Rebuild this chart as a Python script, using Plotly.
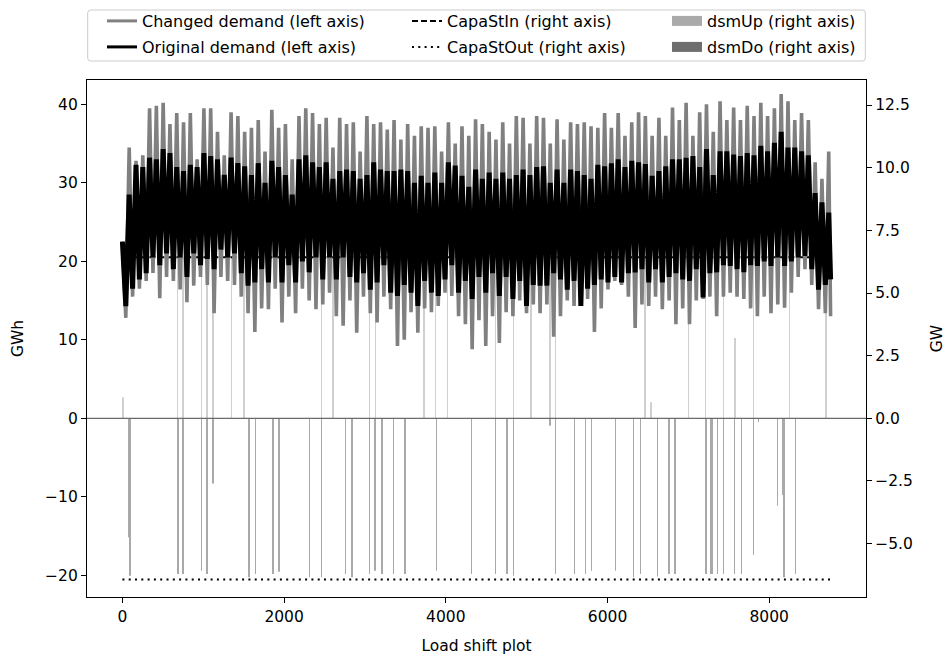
import plotly.graph_objects as go

# ---------------- data ----------------
# sample hours (every 84 h over the year); each sample holds a high/low reading
step_hours = list(range(0, 8760, 84))

orig_hi = [22.5, 28.5, 32.3, 32.0, 33.2, 33.0, 34.3, 33.8, 32.0, 31.5,
           32.3, 32.0, 33.8, 33.4, 33.0, 31.0, 33.2, 32.5, 32.1, 31.0,
           32.5, 30.0, 32.8, 32.0, 31.0, 28.5, 33.0, 33.5, 32.6, 32.0,
           32.6, 30.5, 31.5, 31.7, 31.5, 30.5, 31.0, 32.6, 31.7, 31.5,
           31.5, 31.7, 31.5, 30.0, 30.9, 30.0, 31.3, 30.0, 32.6, 32.2,
           30.9, 29.5, 31.7, 30.5, 31.3, 30.5, 31.3, 30.5, 31.0, 31.7,
           31.0, 32.0, 32.1, 30.0, 31.7, 30.0, 31.7, 31.5, 31.0, 30.5,
           32.3, 32.1, 32.5, 33.0, 32.0, 32.8, 32.6, 32.4, 30.9, 31.5,
           32.1, 33.0, 33.0, 33.2, 33.4, 32.0, 34.3, 31.0, 34.0, 34.0,
           33.6, 33.4, 33.8, 33.5, 34.7, 34.0, 35.1, 36.5, 34.5, 34.5,
           34.0, 33.5, 28.7, 27.5, 26.2]

orig_lo = [14.3, 16.5, 17.7, 18.5, 20.5, 19.5, 21.0, 19.0, 20.5, 18.0,
           21.0, 19.5, 20.3, 19.0, 21.5, 20.5, 21.0, 18.5, 16.9, 17.3,
           19.0, 17.3, 20.5, 17.3, 19.5, 17.3, 20.0, 18.6, 20.5, 17.7,
           20.5, 17.7, 20.5, 18.0, 17.3, 18.5, 16.4, 17.3, 19.5, 16.0,
           15.6, 17.0, 16.0, 14.3, 17.5, 16.0, 15.6, 17.7, 19.5, 16.0,
           17.5, 15.2, 18.0, 16.0, 18.5, 15.6, 18.0, 15.2, 17.5, 14.3,
           17.0, 16.9, 16.9, 18.5, 17.7, 16.4, 17.5, 14.3, 16.5, 17.0,
           17.7, 17.3, 18.0, 17.3, 18.5, 18.6, 19.0, 17.3, 19.0, 17.3,
           18.0, 18.5, 17.7, 17.5, 19.0, 15.4, 18.5, 18.6, 19.5, 19.4,
           19.0, 18.6, 19.5, 19.4, 20.0, 19.4, 20.5, 19.4, 20.0, 20.5,
           20.7, 19.0, 16.4, 17.0, 17.7]

chg_hi = [22.5, 34.5, 32.8, 33.5, 39.5, 39.8, 40.2, 37.5, 38.9, 37.7,
          38.9, 33.0, 39.5, 39.5, 36.5, 33.5, 39.0, 38.5, 36.5, 37.0,
          38.0, 34.0, 39.3, 37.0, 37.5, 33.0, 38.5, 39.5, 38.9, 37.5,
          38.3, 34.5, 38.3, 37.5, 37.7, 34.0, 38.5, 37.5, 37.7, 36.8,
          38.0, 35.5, 37.5, 36.0, 37.2, 37.0, 37.2, 34.0, 37.7, 35.0,
          37.2, 36.0, 38.1, 37.5, 36.5, 35.5, 37.7, 35.0, 38.5, 38.3,
          35.0, 38.5, 38.3, 35.0, 38.1, 35.5, 37.7, 37.5, 37.7, 37.2,
          37.0, 38.9, 37.0, 38.9, 36.0, 37.7, 39.0, 38.5, 36.0, 38.3,
          36.0, 39.6, 38.0, 40.2, 36.0, 39.0, 40.0, 36.5, 40.4, 38.0,
          39.6, 38.0, 39.8, 38.5, 40.2, 38.5, 39.5, 41.3, 40.4, 38.0,
          38.9, 38.0, 32.6, 30.5, 34.0]

chg_lo = [12.8, 15.5, 16.5, 17.5, 18.5, 15.3, 18.0, 17.5, 16.4, 14.8,
          16.9, 18.0, 17.0, 13.4, 18.0, 17.5, 17.0, 15.5, 13.4, 11.0,
          14.0, 13.9, 16.5, 12.2, 15.5, 13.4, 16.5, 15.0, 13.9, 14.5,
          16.0, 13.0, 11.8, 15.0, 10.9, 15.5, 13.4, 12.2, 15.5, 13.9,
          9.2, 10.0, 13.5, 10.9, 14.0, 13.5, 14.3, 16.0, 15.6, 13.0,
          12.0, 8.8, 12.5, 9.2, 13.0, 9.6, 13.5, 13.0, 15.0, 13.4,
          14.5, 13.4, 14.5, 10.4, 13.0, 15.0, 14.3, 15.0, 15.2, 11.0,
          14.0, 16.4, 17.5, 17.0, 15.5, 11.5, 14.5, 14.3, 15.5, 13.9,
          15.0, 12.0, 14.0, 12.0, 15.0, 15.2, 15.5, 13.0, 15.5, 16.0,
          15.5, 15.2, 14.0, 13.0, 15.5, 13.4, 14.5, 14.1, 16.0, 18.0,
          19.0, 17.0, 13.9, 13.4, 13.0]

dsm_up_hours = [8, 681, 751, 978, 1048, 1122, 1349, 1506, 2463, 2607,
                3053, 3131, 3729, 3873, 4018, 4616, 4834, 5053, 5288, 5358,
                6464, 6538, 7000, 7210, 7433, 7577, 7808, 8250, 8704]
dsm_up_gw = [0.84, 6.43, 6.43, 6.43, 6.43, 6.43, 6.43, 6.43, 6.43, 6.43,
             6.43, 6.43, 6.43, 6.43, 6.43, 6.43, 6.43, 6.43, 6.43, 6.43,
             6.43, 0.64, 6.43, 6.43, 6.43, 3.2, 6.43, 6.43, 6.43]

dsm_do_hours = [80, 95, 689, 751, 978, 1048, 1122, 1568, 1646, 1865,
                1939, 2314, 2463, 2756, 2838, 3053, 3127, 3213, 3354, 3498,
                3886, 4315, 4612, 4756, 4838, 5288, 5358, 5589, 5729, 5800,
                6101, 6323, 6406, 6620, 6761, 6835, 7219, 7276, 7293, 7359,
                7433, 7573, 7656, 7804, 7870, 8105, 8172, 8180, 8324]
dsm_do_gw = [-4.75, -6.28, -6.21, -6.21, -6.08, -6.21, -2.60, -6.34, -6.21, -6.21,
             -6.12, -6.34, -6.34, -6.21, -6.34, -6.21, -6.08, -6.21, -6.21, -6.21,
             -6.08, -6.21, -6.21, -6.21, -6.28, -0.30, -6.21, -6.21, -6.21, -6.08,
             -6.08, -6.34, -6.21, -6.31, -6.21, -6.21, -6.21, -6.21, -6.21, -6.21,
             -6.21, -6.21, -6.21, -5.45, -0.15, -3.49, -3.06, -6.34, -6.21]

capa_hours = [0, 8759]
capa_st_in = [6.43, 6.43]
capa_st_out = [-6.43, -6.43]

x_ticks = [0, 2000, 4000, 6000, 8000]
left_ticks = [-20, -10, 0, 10, 20, 30, 40]
right_ticks = [-5.0, -2.5, 0.0, 2.5, 5.0, 7.5, 10.0, 12.5]

# ---------------- figure ----------------
FONT = "DejaVu Sans"
W, H = 946, 655
ML, MR, MT, MB = 87, 80, 80, 58
PW, PH = W - ML - MR, H - MT - MB


def zigzag(hi, lo):
    xs, ys = [], []
    for h, a, b in zip(step_hours, hi, lo):
        xs += [h, min(h + 42, 8759)]
        ys += [a, b]
    return xs, ys


fig = go.Figure()

# right-axis (base subplot, drawn underneath)
fig.add_trace(go.Bar(x=dsm_do_hours, y=dsm_do_gw, yaxis="y2", width=6,
                     marker=dict(color="#a9a9a9", line=dict(width=0)),
                     showlegend=False, hoverinfo="skip"))
fig.add_trace(go.Bar(x=dsm_up_hours, y=dsm_up_gw, yaxis="y2", width=6,
                     marker=dict(color="#d0d0d0", line=dict(width=0)),
                     showlegend=False, hoverinfo="skip"))
fig.add_trace(go.Scatter(x=capa_hours, y=capa_st_in, yaxis="y2", mode="lines",
                         line=dict(color="black", width=2, dash="6px,3px"),
                         showlegend=False, hoverinfo="skip"))
fig.add_trace(go.Scatter(x=capa_hours, y=capa_st_out, yaxis="y2", mode="lines",
                         line=dict(color="black", width=2, dash="2px,4.3px"),
                         showlegend=False, hoverinfo="skip"))

# left-axis demand lines (overlaying subplot, drawn on top)
cx, cy = zigzag(chg_hi, chg_lo)
ox, oy = zigzag(orig_hi, orig_lo)
fig.add_trace(go.Scatter(x=cx, y=cy, yaxis="y", mode="lines",
                         line=dict(color="#808080", width=3.6, simplify=False),
                         showlegend=False, hoverinfo="skip"))
fig.add_trace(go.Scatter(x=ox, y=oy, yaxis="y", mode="lines",
                         line=dict(color="black", width=5, simplify=False),
                         showlegend=False, hoverinfo="skip"))

# legend entries (one legend per slot, laid out like the reference)
entries = [
    ("Changed demand (left axis)", dict(color="#808080", width=3), 142, 21),
    ("Original demand (left axis)", dict(color="black", width=3), 142, 47),
    ("CapaStIn (right axis)", dict(color="black", width=2, dash="6px,3px"), 447, 21),
    ("CapaStOut (right axis)", dict(color="black", width=2, dash="2px,4.3px"), 447, 47),
    ("dsmUp (right axis)", dict(color="#aaaaaa", width=10), 707, 21),
    ("dsmDo (right axis)", dict(color="#6e6e6e", width=10), 707, 47),
]
legend_layouts = {}
for i, (name, ln, tx, ty) in enumerate(entries):
    key = "legend" if i == 0 else "legend%d" % (i + 1)
    fig.add_trace(go.Scatter(x=[None], y=[None], mode="lines", line=ln,
                             name=name, legend=key, showlegend=True))
    legend_layouts[key] = dict(
        x=(tx - 40 - ML) / PW, y=(H - MB - ty) / PH,
        xanchor="left", yanchor="middle",
        bgcolor="rgba(0,0,0,0)", borderwidth=0,
        font=dict(family=FONT, size=16, color="black"),
    )

# legend frame
x0, x1 = (87.7 - ML) / PW, (865.3 - ML) / PW
y0, y1 = (H - MB - 61) / PH, (H - MB - 10) / PH
rx, ry = 3 / PW, 3 / PH
frame = (f"M{x0+rx},{y1} L{x1-rx},{y1} Q{x1},{y1} {x1},{y1-ry} "
         f"L{x1},{y0+ry} Q{x1},{y0} {x1-rx},{y0} L{x0+rx},{y0} "
         f"Q{x0},{y0} {x0},{y0+ry} L{x0},{y1-ry} Q{x0},{y1} {x0+rx},{y1} Z")

axis_common = dict(showgrid=False, zeroline=False, showline=True,
                   linecolor="black", linewidth=1.3, ticks="outside",
                   ticklen=5, tickwidth=1.3, tickcolor="black",
                   tickfont=dict(family=FONT, size=15.5, color="black"))

fig.update_layout(
    width=W, height=H,
    margin=dict(l=ML, r=MR, t=MT, b=MB, autoexpand=False),
    paper_bgcolor="white", plot_bgcolor="white",
    barmode="overlay",
    font=dict(family=FONT, size=15.5, color="black"),
    xaxis=dict(range=[-438, 9197], tickvals=x_ticks, tickformat="d",
               mirror=True, anchor="y2",
               title=dict(text="Load shift plot", standoff=17,
                          font=dict(family=FONT, size=15.5)),
               **axis_common),
    yaxis2=dict(range=[-7.13, 13.5], tickvals=right_ticks, tickformat=".1f",
                side="right", anchor="x",
                title=dict(text="GW", standoff=19,
                           font=dict(family=FONT, size=15.5)),
                **axis_common),
    yaxis=dict(range=[-22.77, 43.1], tickvals=left_ticks, side="left",
               overlaying="y2", anchor="x",
               title=dict(text="GWh", standoff=17,
                          font=dict(family=FONT, size=15.5)),
               **axis_common),
    shapes=[
        dict(type="line", xref="paper", x0=0, x1=1, yref="y2", y0=0, y1=0,
             line=dict(color="#6a6a6a", width=1.2), layer="above"),
        dict(type="path", xref="paper", yref="paper", path=frame,
             line=dict(color="#cccccc", width=1), layer="above"),
    ],
    **legend_layouts,
)

fig.write_html("out.html", config={"displayModeBar": False})
